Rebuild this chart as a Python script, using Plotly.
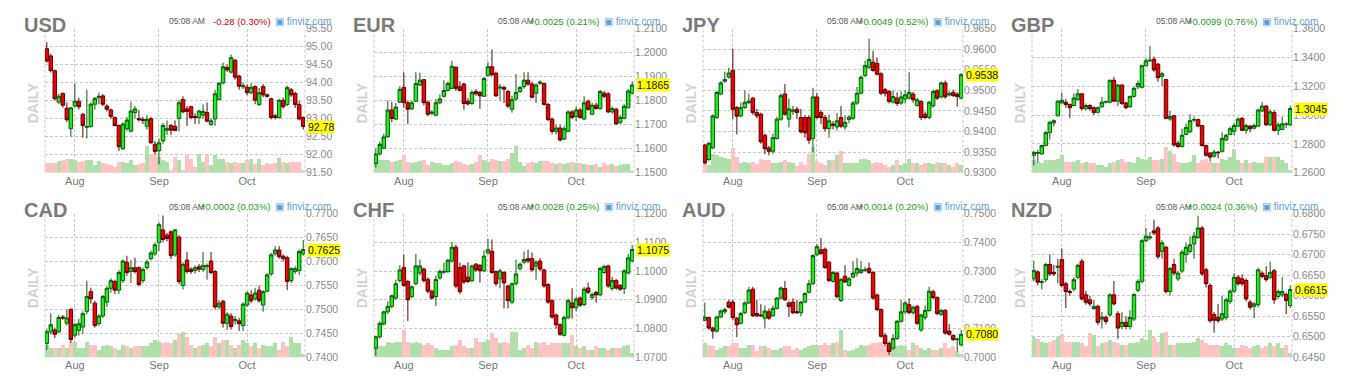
import plotly.graph_objects as go
import pandas as pd

# ---------------- categories ----------------
dates = [d.strftime("%Y-%m-%d") for d in pd.bdate_range("2020-07-23", "2020-10-21")]
month_ticks = ["2020-08-03", "2020-09-01", "2020-10-01"]
month_labels = ["Aug", "Sep", "Oct"]

# ---------------- USD ----------------
usd_open = [94.94, 94.74, 94.33, 93.46, 93.70, 93.29, 92.72, 93.35, 93.48, 93.12,
            92.76, 92.78, 93.40, 93.58, 93.63, 93.35, 93.24, 93.03, 92.81, 92.16,
            92.72, 92.65, 93.17, 93.00, 92.98, 92.79, 93.00, 92.29, 92.11, 92.38,
            92.68, 92.81, 92.79, 93.01, 93.53, 93.27, 93.33, 93.06, 93.03, 93.10,
            93.17, 92.84, 92.99, 93.53, 93.99, 94.42, 94.29, 94.62, 94.18, 93.88,
            93.87, 93.72, 93.89, 93.39, 93.89, 93.66, 93.55, 93.08, 93.03, 93.51,
            93.39, 93.80, 93.70, 93.39, 93.03]
usd_close = [94.60, 94.33, 93.55, 93.62, 93.37, 92.97, 93.30, 93.48, 93.33, 92.81,
             92.78, 93.40, 93.56, 93.62, 93.40, 93.26, 93.06, 92.81, 92.22, 92.85,
             92.96, 93.21, 93.27, 92.97, 92.95, 92.98, 92.33, 92.09, 92.33, 92.81,
             92.72, 92.68, 92.67, 93.44, 93.19, 93.20, 93.03, 93.03, 93.21, 93.20,
             92.93, 92.94, 93.69, 93.98, 94.44, 94.35, 94.69, 94.15, 93.90, 93.92,
             93.72, 93.87, 93.51, 93.72, 93.66, 93.62, 93.03, 93.03, 93.51, 93.33,
             93.86, 93.66, 93.39, 92.99, 92.78]
usd_high = [95.12, 94.80, 94.36, 93.68, 93.72, 93.45, 93.32, 93.98, 93.58, 93.16,
            93.80, 93.45, 93.60, 93.72, 93.68, 93.40, 93.28, 93.06, 92.84, 92.90,
            93.05, 93.47, 93.35, 93.24, 93.05, 93.10, 93.05, 92.38, 92.45, 92.88,
            92.95, 92.85, 92.95, 93.52, 93.62, 93.35, 93.36, 93.15, 93.25, 93.40,
            93.45, 93.00, 93.80, 94.02, 94.55, 94.50, 94.78, 94.66, 94.22, 94.00,
            93.95, 93.98, 93.92, 93.85, 93.96, 93.70, 93.58, 93.12, 93.55, 93.58,
            93.92, 93.85, 93.75, 93.50, 93.06]
usd_low = [94.55, 94.28, 93.50, 93.40, 93.30, 92.90, 92.50, 93.30, 93.25, 92.47,
           92.45, 92.75, 93.25, 93.40, 93.35, 93.20, 93.00, 92.78, 92.10, 92.14,
           92.65, 92.62, 93.00, 92.92, 92.85, 92.70, 92.30, 92.00, 91.73, 92.30,
           92.55, 92.55, 92.65, 92.65, 93.15, 92.80, 92.98, 92.85, 92.85, 93.00,
           92.90, 92.80, 92.80, 93.50, 93.95, 94.30, 94.25, 94.08, 93.80, 93.82,
           93.65, 93.68, 93.40, 93.35, 93.60, 93.58, 92.98, 92.98, 93.00, 93.28,
           93.35, 93.60, 93.30, 92.95, 92.70]
usd_volume = [30, 30, 32, 38, 42, 45, 45, 40, 35, 38,
              40, 42, 25, 38, 30, 28, 25, 20, 35, 35,
              30, 42, 25, 28, 30, 85, 60, 55, 50, 40,
              35, 10, 50, 40, 10, 60, 45, 20, 60, 35,
              55, 25, 55, 45, 45, 35, 30, 35, 30, 30,
              40, 45, 28, 45, 25, 30, 28, 32, 48, 35,
              30, 35, 35, 35, 10]
usd_ticks = [91.5, 92.0, 92.5, 93.0, 93.5, 94.0, 94.5, 95.0, 95.5]

# ---------------- EUR ----------------
eur_open = [1.1538, 1.1578, 1.1602, 1.1649, 1.1761, 1.1723, 1.1793, 1.1855, 1.1791, 1.1766,
            1.1797, 1.1865, 1.1887, 1.1793, 1.1747, 1.1739, 1.1791, 1.1818, 1.1842, 1.1851,
            1.1939, 1.1858, 1.1869, 1.1797, 1.1788, 1.1838, 1.1834, 1.1818, 1.1905, 1.1941,
            1.1914, 1.1852, 1.1855, 1.1838, 1.1764, 1.1807, 1.1838, 1.1858, 1.1885, 1.1869,
            1.1831, 1.1872, 1.1871, 1.1784, 1.1723, 1.1672, 1.1686, 1.1640, 1.1672, 1.1753,
            1.1734, 1.1761, 1.1723, 1.1797, 1.1743, 1.1781, 1.1767, 1.1831, 1.1828, 1.1753,
            1.1764, 1.1710, 1.1726, 1.1770, 1.1831]
eur_close = [1.1578, 1.1618, 1.1649, 1.1761, 1.1726, 1.1773, 1.1847, 1.1791, 1.1764, 1.1791,
             1.1871, 1.1885, 1.1791, 1.1743, 1.1752, 1.1791, 1.1807, 1.1842, 1.1871, 1.1943,
             1.1851, 1.1842, 1.1788, 1.1786, 1.1834, 1.1828, 1.1820, 1.1892, 1.1941, 1.1908,
             1.1820, 1.1856, 1.1847, 1.1777, 1.1804, 1.1834, 1.1855, 1.1885, 1.1869, 1.1814,
             1.1865, 1.1877, 1.1784, 1.1721, 1.1672, 1.1686, 1.1636, 1.1683, 1.1753, 1.1730,
             1.1761, 1.1730, 1.1791, 1.1764, 1.1781, 1.1767, 1.1838, 1.1818, 1.1753, 1.1767,
             1.1703, 1.1730, 1.1777, 1.1840, 1.1865]
eur_high = [1.1600, 1.1630, 1.1662, 1.1800, 1.1795, 1.1790, 1.1860, 1.1918, 1.1800, 1.1800,
            1.1918, 1.1916, 1.1890, 1.1800, 1.1760, 1.1805, 1.1825, 1.1885, 1.1880, 1.1966,
            1.1942, 1.1880, 1.1875, 1.1810, 1.1845, 1.1848, 1.1840, 1.1898, 1.1960, 1.2013,
            1.1920, 1.1870, 1.1862, 1.1845, 1.1820, 1.1910, 1.1862, 1.1918, 1.1918, 1.1880,
            1.1872, 1.1885, 1.1875, 1.1790, 1.1730, 1.1700, 1.1700, 1.1695, 1.1760, 1.1760,
            1.1775, 1.1770, 1.1818, 1.1805, 1.1790, 1.1792, 1.1845, 1.1840, 1.1835, 1.1776,
            1.1770, 1.1740, 1.1785, 1.1848, 1.1880]
eur_low = [1.1521, 1.1570, 1.1598, 1.1645, 1.1710, 1.1720, 1.1790, 1.1770, 1.1703, 1.1760,
           1.1795, 1.1860, 1.1780, 1.1735, 1.1740, 1.1735, 1.1785, 1.1812, 1.1838, 1.1848,
           1.1840, 1.1838, 1.1762, 1.1780, 1.1782, 1.1820, 1.1766, 1.1815, 1.1900, 1.1900,
           1.1815, 1.1800, 1.1790, 1.1770, 1.1750, 1.1800, 1.1832, 1.1850, 1.1862, 1.1810,
           1.1790, 1.1865, 1.1780, 1.1715, 1.1660, 1.1660, 1.1630, 1.1635, 1.1668, 1.1722,
           1.1715, 1.1725, 1.1720, 1.1758, 1.1740, 1.1763, 1.1762, 1.1810, 1.1748, 1.1745,
           1.1700, 1.1702, 1.1722, 1.1768, 1.1825]
eur_volume = [45, 40, 40, 42, 35, 38, 40, 55, 35, 32,
              35, 38, 40, 25, 35, 32, 30, 25, 25, 30,
              38, 35, 28, 25, 28, 35, 55, 40, 35, 45,
              40, 38, 38, 45, 62, 84, 35, 22, 30, 35,
              30, 38, 38, 38, 32, 28, 30, 28, 32, 35,
              32, 30, 28, 25, 25, 28, 20, 30, 25, 28,
              22, 25, 28, 28, 8]
eur_ticks = [1.15, 1.16, 1.17, 1.18, 1.19, 1.20, 1.21]

# ---------------- JPY ----------------
jpy_open = [0.9367, 0.9332, 0.9360, 0.9434, 0.9491, 0.9522, 0.9532, 0.9548, 0.9458, 0.9438,
            0.9458, 0.9470, 0.9481, 0.9446, 0.9442, 0.9391, 0.9360, 0.9352, 0.9383, 0.9430,
            0.9491, 0.9430, 0.9449, 0.9454, 0.9434, 0.9434, 0.9434, 0.9383, 0.9484, 0.9446,
            0.9434, 0.9407, 0.9418, 0.9411, 0.9434, 0.9411, 0.9429, 0.9432, 0.9469, 0.9493,
            0.9536, 0.9556, 0.9568, 0.9565, 0.9540, 0.9502, 0.9497, 0.9471, 0.9481, 0.9469,
            0.9479, 0.9481, 0.9491, 0.9463, 0.9473, 0.9442, 0.9434, 0.9462, 0.9499, 0.9484,
            0.9518, 0.9489, 0.9495, 0.9491, 0.9481]
jpy_close = [0.9324, 0.9371, 0.9438, 0.9495, 0.9518, 0.9526, 0.9542, 0.9454, 0.9437, 0.9458,
             0.9471, 0.9474, 0.9446, 0.9438, 0.9375, 0.9358, 0.9352, 0.9385, 0.9430, 0.9487,
             0.9442, 0.9455, 0.9452, 0.9446, 0.9399, 0.9397, 0.9379, 0.9484, 0.9434, 0.9434,
             0.9407, 0.9426, 0.9415, 0.9426, 0.9413, 0.9422, 0.9435, 0.9469, 0.9493, 0.9532,
             0.9560, 0.9575, 0.9548, 0.9539, 0.9493, 0.9493, 0.9473, 0.9485, 0.9468, 0.9484,
             0.9489, 0.9495, 0.9477, 0.9477, 0.9434, 0.9434, 0.9471, 0.9497, 0.9481, 0.9518,
             0.9484, 0.9492, 0.9487, 0.9485, 0.9538]
jpy_high = [0.9370, 0.9375, 0.9442, 0.9498, 0.9522, 0.9545, 0.9555, 0.9601, 0.9462, 0.9470,
            0.9500, 0.9492, 0.9484, 0.9455, 0.9446, 0.9395, 0.9365, 0.9395, 0.9436, 0.9492,
            0.9515, 0.9480, 0.9462, 0.9460, 0.9455, 0.9440, 0.9440, 0.9506, 0.9494, 0.9452,
            0.9440, 0.9442, 0.9425, 0.9445, 0.9462, 0.9440, 0.9440, 0.9474, 0.9508, 0.9536,
            0.9572, 0.9625, 0.9596, 0.9580, 0.9544, 0.9506, 0.9500, 0.9500, 0.9495, 0.9498,
            0.9500, 0.9544, 0.9496, 0.9482, 0.9476, 0.9448, 0.9475, 0.9502, 0.9503, 0.9522,
            0.9524, 0.9498, 0.9502, 0.9495, 0.9542]
jpy_low = [0.9320, 0.9328, 0.9358, 0.9430, 0.9488, 0.9518, 0.9528, 0.9430, 0.9393, 0.9434,
           0.9455, 0.9466, 0.9440, 0.9432, 0.9370, 0.9345, 0.9342, 0.9345, 0.9380, 0.9426,
           0.9438, 0.9410, 0.9440, 0.9430, 0.9395, 0.9385, 0.9370, 0.9350, 0.9430, 0.9418,
           0.9400, 0.9385, 0.9405, 0.9402, 0.9408, 0.9404, 0.9420, 0.9428, 0.9465, 0.9490,
           0.9532, 0.9552, 0.9545, 0.9536, 0.9488, 0.9485, 0.9468, 0.9468, 0.9462, 0.9465,
           0.9468, 0.9478, 0.9470, 0.9460, 0.9428, 0.9430, 0.9430, 0.9458, 0.9476, 0.9480,
           0.9480, 0.9485, 0.9484, 0.9460, 0.9478]
jpy_volume = [50, 25, 60, 55, 50, 48, 45, 78, 50, 33,
              35, 33, 35, 28, 45, 42, 40, 30, 32, 35,
              42, 35, 32, 22, 35, 25, 60, 80, 38, 30,
              25, 42, 40, 55, 68, 32, 32, 32, 32, 45,
              45, 42, 30, 35, 30, 25, 20, 25, 40, 25,
              30, 45, 30, 32, 25, 30, 30, 28, 35, 30,
              30, 25, 20, 32, 25]
jpy_ticks = [0.930, 0.935, 0.940, 0.945, 0.950, 0.955, 0.960, 0.965]

# ---------------- GBP ----------------
gbp_open = [1.2721, 1.2735, 1.2730, 1.2788, 1.2878, 1.2945, 1.2995, 1.3084, 1.3089, 1.3073,
            1.3066, 1.3107, 1.3147, 1.3044, 1.3066, 1.3051, 1.3019, 1.3057, 1.3089, 1.3089,
            1.3241, 1.3096, 1.3208, 1.3084, 1.3057, 1.3129, 1.3196, 1.3192, 1.3342, 1.3376,
            1.3387, 1.3353, 1.3268, 1.3246, 1.2972, 1.2995, 1.2804, 1.2782, 1.2865, 1.2883,
            1.2965, 1.2968, 1.2927, 1.2788, 1.2737, 1.2714, 1.2743, 1.2748, 1.2827, 1.2865,
            1.2887, 1.2923, 1.2977, 1.2894, 1.2923, 1.2909, 1.2923, 1.3028, 1.3062, 1.2932,
            1.3017, 1.2894, 1.2900, 1.2934, 1.2932]
gbp_close = [1.2741, 1.2740, 1.2788, 1.2878, 1.2950, 1.2961, 1.3096, 1.3102, 1.3073, 1.3051,
             1.3118, 1.3147, 1.3044, 1.3066, 1.3044, 1.3017, 1.3051, 1.3089, 1.3093, 1.3241,
             1.3096, 1.3208, 1.3080, 1.3051, 1.3129, 1.3185, 1.3219, 1.3342, 1.3376, 1.3380,
             1.3313, 1.3259, 1.3286, 1.2977, 1.2990, 1.2793, 1.2782, 1.2860, 1.2914, 1.2961,
             1.2968, 1.2923, 1.2788, 1.2721, 1.2708, 1.2743, 1.2739, 1.2838, 1.2860, 1.2905,
             1.2927, 1.2972, 1.2894, 1.2927, 1.2905, 1.2927, 1.3035, 1.3062, 1.2932, 1.3022,
             1.2894, 1.2932, 1.2939, 1.2937, 1.3045]
gbp_high = [1.2750, 1.2760, 1.2795, 1.2890, 1.2960, 1.2970, 1.3104, 1.3155, 1.3110, 1.3080,
            1.3150, 1.3180, 1.3150, 1.3080, 1.3075, 1.3060, 1.3060, 1.3125, 1.3100, 1.3245,
            1.3265, 1.3215, 1.3212, 1.3090, 1.3135, 1.3195, 1.3240, 1.3350, 1.3395, 1.3480,
            1.3405, 1.3360, 1.3300, 1.3250, 1.3030, 1.3000, 1.2820, 1.2905, 1.2940, 1.3005,
            1.2990, 1.2975, 1.2930, 1.2795, 1.2740, 1.2760, 1.2750, 1.2880, 1.2870, 1.2920,
            1.2945, 1.2985, 1.2985, 1.2940, 1.2930, 1.2940, 1.3045, 1.3090, 1.3068, 1.3040,
            1.3035, 1.2950, 1.2990, 1.2950, 1.3065]
gbp_low = [1.2650, 1.2670, 1.2725, 1.2784, 1.2830, 1.2920, 1.2990, 1.3080, 1.3050, 1.2980,
           1.3060, 1.3100, 1.3030, 1.3030, 1.3030, 1.3000, 1.3010, 1.3050, 1.3080, 1.3080,
           1.3090, 1.3060, 1.3070, 1.3040, 1.3050, 1.3120, 1.3180, 1.3185, 1.3335, 1.3370,
           1.3300, 1.3230, 1.3200, 1.2970, 1.2960, 1.2780, 1.2770, 1.2775, 1.2860, 1.2875,
           1.2950, 1.2915, 1.2780, 1.2710, 1.2680, 1.2705, 1.2700, 1.2740, 1.2820, 1.2860,
           1.2860, 1.2915, 1.2890, 1.2870, 1.2880, 1.2900, 1.2918, 1.3020, 1.2925, 1.2925,
           1.2885, 1.2860, 1.2895, 1.2910, 1.2925]
gbp_volume = [40, 35, 30, 40, 42, 42, 45, 55, 35, 35,
              35, 40, 30, 35, 30, 30, 25, 25, 20, 30,
              35, 40, 45, 35, 35, 30, 50, 45, 40, 50,
              40, 42, 45, 80, 70, 60, 35, 30, 30, 35,
              55, 30, 40, 45, 35, 30, 30, 45, 40, 50,
              75, 40, 30, 40, 30, 35, 30, 30, 50, 50,
              50, 50, 40, 30, 10]
gbp_ticks = [1.26, 1.28, 1.30, 1.32, 1.34, 1.36]

# ---------------- CAD ----------------
cad_open = [0.7429, 0.7453, 0.7457, 0.7453, 0.7484, 0.7471, 0.7500, 0.7446, 0.7456, 0.7463,
            0.7496, 0.7537, 0.7513, 0.7470, 0.7486, 0.7515, 0.7544, 0.7558, 0.7540, 0.7560,
            0.7598, 0.7579, 0.7587, 0.7587, 0.7560, 0.7587, 0.7606, 0.7616, 0.7639, 0.7666,
            0.7655, 0.7662, 0.7614, 0.7651, 0.7550, 0.7603, 0.7584, 0.7581, 0.7589, 0.7583,
            0.7589, 0.7601, 0.7579, 0.7505, 0.7517, 0.7471, 0.7486, 0.7476, 0.7476, 0.7466,
            0.7509, 0.7530, 0.7522, 0.7540, 0.7509, 0.7538, 0.7574, 0.7616, 0.7624, 0.7611,
            0.7608, 0.7560, 0.7579, 0.7581, 0.7616]
cad_close = [0.7453, 0.7468, 0.7448, 0.7483, 0.7482, 0.7482, 0.7437, 0.7468, 0.7470, 0.7491,
             0.7527, 0.7522, 0.7466, 0.7486, 0.7527, 0.7544, 0.7560, 0.7540, 0.7577, 0.7601,
             0.7577, 0.7587, 0.7579, 0.7552, 0.7583, 0.7599, 0.7618, 0.7635, 0.7677, 0.7646,
             0.7648, 0.7612, 0.7666, 0.7558, 0.7594, 0.7579, 0.7579, 0.7587, 0.7584, 0.7592,
             0.7591, 0.7577, 0.7505, 0.7513, 0.7471, 0.7490, 0.7464, 0.7479, 0.7470, 0.7511,
             0.7534, 0.7518, 0.7534, 0.7518, 0.7537, 0.7572, 0.7614, 0.7624, 0.7610, 0.7606,
             0.7558, 0.7585, 0.7585, 0.7621, 0.7625]
cad_high = [0.7460, 0.7492, 0.7462, 0.7488, 0.7488, 0.7500, 0.7502, 0.7472, 0.7480, 0.7496,
            0.7560, 0.7545, 0.7518, 0.7490, 0.7530, 0.7548, 0.7565, 0.7562, 0.7582, 0.7604,
            0.7612, 0.7602, 0.7608, 0.7590, 0.7588, 0.7604, 0.7623, 0.7640, 0.7682, 0.7696,
            0.7660, 0.7665, 0.7668, 0.7655, 0.7598, 0.7620, 0.7588, 0.7592, 0.7595, 0.7620,
            0.7596, 0.7620, 0.7582, 0.7520, 0.7520, 0.7494, 0.7492, 0.7486, 0.7482, 0.7515,
            0.7538, 0.7540, 0.7545, 0.7550, 0.7540, 0.7576, 0.7618, 0.7632, 0.7632, 0.7615,
            0.7612, 0.7588, 0.7590, 0.7625, 0.7645]
cad_low = [0.7415, 0.7448, 0.7440, 0.7450, 0.7478, 0.7466, 0.7430, 0.7440, 0.7445, 0.7448,
           0.7490, 0.7512, 0.7462, 0.7466, 0.7482, 0.7505, 0.7535, 0.7532, 0.7532, 0.7555,
           0.7570, 0.7555, 0.7575, 0.7548, 0.7555, 0.7583, 0.7602, 0.7612, 0.7622, 0.7640,
           0.7642, 0.7605, 0.7610, 0.7552, 0.7542, 0.7575, 0.7574, 0.7575, 0.7578, 0.7578,
           0.7562, 0.7573, 0.7500, 0.7500, 0.7462, 0.7457, 0.7458, 0.7468, 0.7455, 0.7455,
           0.7505, 0.7513, 0.7518, 0.7514, 0.7495, 0.7535, 0.7570, 0.7612, 0.7606, 0.7600,
           0.7540, 0.7555, 0.7574, 0.7572, 0.7612]
cad_volume = [40, 30, 30, 30, 38, 30, 48, 50, 30, 30,
              50, 40, 40, 25, 35, 38, 35, 30, 25, 40,
              35, 30, 35, 35, 35, 35, 45, 55, 50, 45,
              50, 45, 55, 75, 80, 65, 40, 30, 35, 40,
              45, 35, 65, 45, 55, 55, 40, 30, 40, 55,
              45, 35, 45, 30, 40, 35, 35, 45, 25, 50,
              35, 65, 45, 45, 10]
cad_ticks = [0.740, 0.745, 0.750, 0.755, 0.760, 0.765, 0.770]

# ---------------- CHF ----------------
chf_open = [1.0731, 1.0771, 1.0816, 1.0858, 1.0877, 1.0906, 1.0967, 1.1012, 1.0964, 1.0911,
            1.0956, 1.0993, 1.1007, 1.0971, 1.0930, 1.0911, 1.0976, 1.0996, 1.0998, 1.1035,
            1.1083, 1.1012, 1.1018, 1.0979, 1.0967, 1.1024, 1.1020, 1.1001, 1.1063, 1.1069,
            1.0998, 1.0973, 1.0995, 1.0948, 1.0892, 1.0956, 1.1009, 1.1031, 1.1043, 1.1043,
            1.1018, 1.1035, 1.1004, 1.0953, 1.0897, 1.0847, 1.0813, 1.0776, 1.0838, 1.0889,
            1.0872, 1.0906, 1.0883, 1.0941, 1.0908, 1.0926, 1.0917, 1.0995, 1.1018, 1.0939,
            1.0967, 1.0950, 1.0939, 1.0993, 1.1035]
chf_close = [1.0771, 1.0818, 1.0858, 1.0877, 1.0914, 1.0956, 1.1004, 1.0950, 1.0900, 1.0945,
             1.1018, 1.1018, 1.0967, 1.0930, 1.0906, 1.0971, 1.0999, 1.0999, 1.1038, 1.1083,
             1.0948, 1.0928, 1.0962, 1.0964, 1.1018, 1.1004, 1.1001, 1.1052, 1.1074, 1.0995,
             1.0956, 1.1001, 1.0959, 1.0897, 1.0956, 1.0990, 1.1024, 1.1040, 1.1035, 1.1004,
             1.1031, 1.1007, 1.0948, 1.0892, 1.0840, 1.0813, 1.0780, 1.0838, 1.0897, 1.0872,
             1.0903, 1.0881, 1.0937, 1.0926, 1.0919, 1.0917, 1.1009, 1.1016, 1.0948, 1.0967,
             1.0941, 1.0937, 1.1001, 1.1046, 1.1075]
chf_high = [1.0775, 1.0825, 1.0862, 1.0895, 1.0918, 1.0970, 1.1020, 1.1057, 1.0970, 1.0950,
            1.1060, 1.1040, 1.1012, 1.0978, 1.0935, 1.0985, 1.1005, 1.1030, 1.1042, 1.1102,
            1.1092, 1.1030, 1.1022, 1.1030, 1.1022, 1.1028, 1.1024, 1.1072, 1.1112, 1.1110,
            1.1002, 1.1008, 1.1000, 1.0952, 1.0960, 1.1040, 1.1030, 1.1068, 1.1075, 1.1065,
            1.1038, 1.1045, 1.1008, 1.0958, 1.0902, 1.0852, 1.0818, 1.0845, 1.0905, 1.0940,
            1.0910, 1.0912, 1.0945, 1.0960, 1.0925, 1.0930, 1.1015, 1.1022, 1.1022, 1.0980,
            1.0972, 1.0955, 1.1006, 1.1060, 1.1090]
chf_low = [1.0705, 1.0765, 1.0810, 1.0850, 1.0870, 1.0900, 1.0960, 1.0945, 1.0826, 1.0905,
           1.0950, 1.0985, 1.0960, 1.0922, 1.0900, 1.0878, 1.0970, 1.0990, 1.0994, 1.1030,
           1.0940, 1.0920, 1.0955, 1.0958, 1.0960, 1.0998, 1.0960, 1.0996, 1.1058, 1.0990,
           1.0948, 1.0940, 1.0870, 1.0870, 1.0885, 1.0950, 1.1002, 1.1025, 1.1028, 1.0998,
           1.0970, 1.1000, 1.0942, 1.0886, 1.0834, 1.0800, 1.0774, 1.0772, 1.0832, 1.0835,
           1.0860, 1.0875, 1.0878, 1.0920, 1.0900, 1.0890, 1.0912, 1.0990, 1.0942, 1.0932,
           1.0935, 1.0930, 1.0920, 1.0988, 1.1030]
chf_volume = [35, 35, 35, 50, 45, 50, 50, 85, 50, 45,
              50, 45, 40, 45, 40, 30, 25, 25, 25, 35,
              40, 55, 35, 30, 30, 60, 50, 50, 55, 75,
              60, 45, 50, 45, 80, 78, 25, 30, 40, 30,
              50, 45, 50, 40, 45, 45, 45, 45, 45, 70,
              35, 30, 35, 25, 25, 35, 30, 30, 25, 30,
              30, 30, 35, 40, 15]
chf_ticks = [1.07, 1.08, 1.09, 1.10, 1.11, 1.12]

# ---------------- AUD ----------------
aud_open = [0.7129, 0.7138, 0.7102, 0.7091, 0.7140, 0.7158, 0.7192, 0.7192, 0.7136, 0.7118,
            0.7155, 0.7189, 0.7237, 0.7152, 0.7147, 0.7136, 0.7158, 0.7144, 0.7170, 0.7206,
            0.7239, 0.7189, 0.7192, 0.7159, 0.7155, 0.7192, 0.7226, 0.7256, 0.7357, 0.7374,
            0.7376, 0.7331, 0.7264, 0.7293, 0.7197, 0.7282, 0.7250, 0.7279, 0.7293, 0.7295,
            0.7302, 0.7309, 0.7295, 0.7217, 0.7166, 0.7076, 0.7048, 0.7031, 0.7065, 0.7125,
            0.7158, 0.7183, 0.7155, 0.7177, 0.7095, 0.7138, 0.7163, 0.7228, 0.7208, 0.7149,
            0.7163, 0.7091, 0.7076, 0.7061, 0.7043]
aud_close = [0.7140, 0.7102, 0.7091, 0.7140, 0.7161, 0.7166, 0.7174, 0.7138, 0.7113, 0.7152,
             0.7189, 0.7234, 0.7144, 0.7144, 0.7144, 0.7161, 0.7136, 0.7170, 0.7206, 0.7241,
             0.7200, 0.7177, 0.7155, 0.7155, 0.7192, 0.7222, 0.7256, 0.7354, 0.7385, 0.7361,
             0.7312, 0.7267, 0.7295, 0.7211, 0.7271, 0.7262, 0.7273, 0.7293, 0.7309, 0.7304,
             0.7304, 0.7295, 0.7206, 0.7166, 0.7073, 0.7048, 0.7020, 0.7065, 0.7125, 0.7158,
             0.7189, 0.7155, 0.7174, 0.7118, 0.7147, 0.7163, 0.7230, 0.7208, 0.7152, 0.7163,
             0.7084, 0.7080, 0.7062, 0.7063, 0.7080]
aud_high = [0.7190, 0.7142, 0.7106, 0.7145, 0.7166, 0.7172, 0.7200, 0.7200, 0.7140, 0.7158,
            0.7195, 0.7245, 0.7245, 0.7200, 0.7185, 0.7180, 0.7170, 0.7180, 0.7210, 0.7246,
            0.7265, 0.7195, 0.7205, 0.7200, 0.7196, 0.7226, 0.7270, 0.7358, 0.7395, 0.7415,
            0.7382, 0.7336, 0.7300, 0.7298, 0.7276, 0.7320, 0.7280, 0.7335, 0.7345, 0.7335,
            0.7315, 0.7330, 0.7300, 0.7222, 0.7170, 0.7085, 0.7055, 0.7080, 0.7130, 0.7200,
            0.7195, 0.7205, 0.7180, 0.7182, 0.7152, 0.7180, 0.7245, 0.7235, 0.7212, 0.7168,
            0.7168, 0.7115, 0.7080, 0.7068, 0.7095]
aud_low = [0.7125, 0.7095, 0.7065, 0.7085, 0.7136, 0.7150, 0.7170, 0.7130, 0.7070, 0.7114,
           0.7150, 0.7185, 0.7140, 0.7140, 0.7140, 0.7102, 0.7130, 0.7140, 0.7166, 0.7202,
           0.7196, 0.7140, 0.7150, 0.7150, 0.7142, 0.7188, 0.7222, 0.7252, 0.7353, 0.7357,
           0.7308, 0.7262, 0.7260, 0.7205, 0.7192, 0.7258, 0.7246, 0.7275, 0.7280, 0.7290,
           0.7298, 0.7290, 0.7200, 0.7160, 0.7068, 0.7040, 0.7008, 0.7026, 0.7060, 0.7120,
           0.7150, 0.7150, 0.7148, 0.7112, 0.7088, 0.7130, 0.7158, 0.7202, 0.7146, 0.7144,
           0.7078, 0.7075, 0.7056, 0.7020, 0.7038]
aud_volume = [45, 40, 35, 25, 30, 35, 35, 45, 45, 30,
              30, 40, 40, 20, 35, 35, 30, 25, 25, 30,
              35, 35, 25, 30, 25, 30, 35, 40, 40, 40,
              45, 40, 45, 50, 85, 25, 20, 25, 30, 40,
              35, 40, 45, 45, 50, 40, 45, 40, 35, 40,
              35, 25, 45, 40, 30, 25, 30, 25, 25, 30,
              45, 30, 35, 20, 10]
aud_ticks = [0.70, 0.71, 0.72, 0.73, 0.74, 0.75]

# ---------------- NZD ----------------
nzd_open = [0.6641, 0.6658, 0.6632, 0.6639, 0.6676, 0.6657, 0.6669, 0.6688, 0.6629, 0.6610,
            0.6616, 0.6645, 0.6684, 0.6602, 0.6590, 0.6569, 0.6574, 0.6543, 0.6547, 0.6553,
            0.6602, 0.6556, 0.6525, 0.6535, 0.6525, 0.6543, 0.6613, 0.6635, 0.6734, 0.6741,
            0.6758, 0.6765, 0.6708, 0.6718, 0.6610, 0.6676, 0.6641, 0.6660, 0.6700, 0.6708,
            0.6726, 0.6742, 0.6765, 0.6663, 0.6625, 0.6554, 0.6547, 0.6543, 0.6547, 0.6586,
            0.6611, 0.6645, 0.6641, 0.6637, 0.6584, 0.6574, 0.6578, 0.6655, 0.6649, 0.6645,
            0.6661, 0.6598, 0.6602, 0.6603, 0.6576]
nzd_close = [0.6661, 0.6633, 0.6634, 0.6676, 0.6653, 0.6653, 0.6672, 0.6625, 0.6610, 0.6608,
             0.6639, 0.6674, 0.6592, 0.6584, 0.6580, 0.6574, 0.6535, 0.6548, 0.6537, 0.6602,
             0.6580, 0.6521, 0.6535, 0.6525, 0.6547, 0.6603, 0.6635, 0.6734, 0.6745, 0.6743,
             0.6753, 0.6695, 0.6729, 0.6610, 0.6666, 0.6655, 0.6655, 0.6706, 0.6718, 0.6724,
             0.6745, 0.6765, 0.6653, 0.6629, 0.6539, 0.6540, 0.6539, 0.6556, 0.6590, 0.6611,
             0.6645, 0.6629, 0.6629, 0.6592, 0.6572, 0.6580, 0.6663, 0.6647, 0.6639, 0.6657,
             0.6590, 0.6610, 0.6610, 0.6588, 0.6615]
nzd_high = [0.6685, 0.6662, 0.6640, 0.6680, 0.6700, 0.6675, 0.6690, 0.6715, 0.6634, 0.6615,
            0.6645, 0.6678, 0.6690, 0.6612, 0.6600, 0.6590, 0.6578, 0.6560, 0.6552, 0.6606,
            0.6636, 0.6562, 0.6560, 0.6550, 0.6565, 0.6606, 0.6640, 0.6738, 0.6765, 0.6755,
            0.6785, 0.6770, 0.6735, 0.6722, 0.6670, 0.6690, 0.6660, 0.6712, 0.6730, 0.6745,
            0.6755, 0.6795, 0.6770, 0.6668, 0.6630, 0.6560, 0.6580, 0.6600, 0.6595, 0.6616,
            0.6655, 0.6650, 0.6652, 0.6642, 0.6590, 0.6585, 0.6668, 0.6660, 0.6672, 0.6683,
            0.6665, 0.6615, 0.6645, 0.6608, 0.6625]
nzd_low = [0.6635, 0.6625, 0.6615, 0.6633, 0.6648, 0.6648, 0.6630, 0.6620, 0.6570, 0.6600,
           0.6610, 0.6640, 0.6588, 0.6578, 0.6574, 0.6565, 0.6528, 0.6520, 0.6530, 0.6549,
           0.6576, 0.6495, 0.6518, 0.6518, 0.6518, 0.6538, 0.6608, 0.6630, 0.6730, 0.6736,
           0.6748, 0.6690, 0.6690, 0.6605, 0.6600, 0.6650, 0.6636, 0.6655, 0.6680, 0.6703,
           0.6690, 0.6738, 0.6648, 0.6620, 0.6534, 0.6510, 0.6534, 0.6538, 0.6540, 0.6580,
           0.6606, 0.6624, 0.6624, 0.6586, 0.6566, 0.6545, 0.6572, 0.6642, 0.6634, 0.6640,
           0.6580, 0.6592, 0.6596, 0.6555, 0.6570]
nzd_volume = [65, 58, 48, 45, 50, 55, 65, 72, 50, 48,
              50, 48, 45, 35, 75, 70, 35, 45, 50, 55,
              50, 45, 40, 40, 45, 45, 50, 60, 55, 85,
              65, 50, 75, 80, 40, 40, 45, 45, 45, 45,
              50, 60, 55, 45, 40, 40, 40, 35, 45, 40,
              30, 30, 40, 35, 30, 35, 40, 30, 35, 45,
              35, 45, 30, 40, 15]
nzd_ticks = [0.645, 0.650, 0.655, 0.660, 0.665, 0.670, 0.675, 0.680]

# ---------------- panel texts ----------------
names = ["USD", "EUR", "JPY", "GBP", "CAD", "CHF", "AUD", "NZD"]
changes = ["-0.28 (0.30%)", "+0.0025 (0.21%)", "+0.0049 (0.52%)", "+0.0099 (0.76%)",
           "+0.0002 (0.03%)", "+0.0028 (0.25%)", "+0.0014 (0.20%)", "+0.0024 (0.36%)"]
time_label = "05:08 AM"

panels = [
    (usd_open, usd_high, usd_low, usd_close, usd_volume, usd_ticks, ".2f"),
    (eur_open, eur_high, eur_low, eur_close, eur_volume, eur_ticks, ".4f"),
    (jpy_open, jpy_high, jpy_low, jpy_close, jpy_volume, jpy_ticks, ".4f"),
    (gbp_open, gbp_high, gbp_low, gbp_close, gbp_volume, gbp_ticks, ".4f"),
    (cad_open, cad_high, cad_low, cad_close, cad_volume, cad_ticks, ".4f"),
    (chf_open, chf_high, chf_low, chf_close, chf_volume, chf_ticks, ".4f"),
    (aud_open, aud_high, aud_low, aud_close, aud_volume, aud_ticks, ".4f"),
    (nzd_open, nzd_high, nzd_low, nzd_close, nzd_volume, nzd_ticks, ".4f"),
]

# ---------------- geometry / style ----------------
# The page body has an 8px margin on every side, so the figure is sized so that
# figure + margins exactly fills the window, and window positions are converted.
WIN_W, WIN_H = 1348, 387
OFF = 8
W, H = WIN_W - 2 * OFF, WIN_H - 2 * OFF


def px(x):
    return (x - OFF) / W


def py(y):
    return 1 - (y - OFF) / H


COL_LEFT = [45, 374, 703, 1032]
PLOT_W = 260
ROWS = [(23.0, 172.0), (214.3, 362.7)]
GRID = "#c9c9c9"
DASH = "3px,2px"
UP_VOL = "#afe0aa"
DN_VOL = "#ffc3c3"
FONT = "Arial, Liberation Sans, sans-serif"

fig = go.Figure()
layout = dict(
    width=W, height=H, autosize=False,
    margin=dict(l=0, r=0, t=0, b=0),
    paper_bgcolor="white", plot_bgcolor="white",
    showlegend=False, hovermode=False, bargap=0,
    boxgap=0.12, boxgroupgap=0,
    font=dict(family=FONT, color="#777"),
)
annotations = []
shapes = []

for p, (op, hi, lo, cl, vol, ticks, fmt) in enumerate(panels):
    r, c = divmod(p, 4)
    left = COL_LEFT[c]
    right = left + PLOT_W
    top, bottom = ROWS[r]
    xn, yv, yp = p + 1, 2 * p + 1, 2 * p + 2
    xref = "x" if xn == 1 else f"x{xn}"
    yvref = "y" if yv == 1 else f"y{yv}"
    ypref = f"y{yp}"
    xkey = "xaxis" if xn == 1 else f"xaxis{xn}"
    yvkey = "yaxis" if yv == 1 else f"yaxis{yv}"
    ypkey = f"yaxis{yp}"

    vol_colors = [UP_VOL if b >= a else DN_VOL for a, b in zip(op, cl)]
    fig.add_trace(go.Bar(x=dates, y=vol, marker=dict(color=vol_colors, line=dict(width=0)),
                         xaxis=xref, yaxis=yvref, hoverinfo="skip"))
    fig.add_trace(go.Candlestick(
        x=dates, open=op, high=hi, low=lo, close=cl, xaxis=xref, yaxis=ypref,
        whiskerwidth=0, hoverinfo="skip",
        increasing=dict(line=dict(color="#105a10", width=1), fillcolor="#19ec19"),
        decreasing=dict(line=dict(color="#5a0505", width=1), fillcolor="#f20000"),
    ))

    layout[xkey] = dict(
        domain=[px(left), px(right)], anchor=yvref, type="category",
        range=[-0.45, len(dates) - 0.55], tickmode="array",
        tickvals=month_ticks, ticktext=month_labels,
        showgrid=True, gridcolor=GRID, griddash=DASH, gridwidth=1,
        zeroline=False, showline=False, ticks="",
        tickfont=dict(size=11, color="#777"),
        rangeslider=dict(visible=False), fixedrange=True,
    )
    layout[yvkey] = dict(domain=[py(bottom), py(top)], anchor=xref,
                         range=[0, 446], visible=False, fixedrange=True)
    layout[ypkey] = dict(
        overlaying=yvref, anchor=xref, side="right",
        range=[ticks[0], ticks[-1]], tickmode="array", tickvals=ticks, tickformat=fmt,
        showgrid=True, gridcolor=GRID, griddash=DASH, gridwidth=1,
        zeroline=False, showline=False, ticks="",
        tickfont=dict(size=10.5, color="#8a8a8a"), fixedrange=True,
    )

    for xe in (0, 1):
        shapes.append(dict(type="line", xref=f"{xref} domain", yref=f"{yvref} domain",
                           x0=xe, x1=xe, y0=0, y1=1, layer="below",
                           line=dict(color=GRID, width=1, dash=DASH)))

    # big name
    annotations.append(dict(text=f"<b>{names[p]}</b>", xref="paper", yref="paper",
                            x=px(left - 23), y=py(top - 4), xanchor="left", yanchor="middle",
                            showarrow=False, font=dict(size=20, color="#7a7a7a", family=FONT)))
    # DAILY
    annotations.append(dict(text="<b>DAILY</b>", xref="paper", yref="paper", textangle=-90,
                            x=px(left - 12), y=py((top + bottom) / 2 + 3),
                            xanchor="center", yanchor="middle", showarrow=False,
                            font=dict(size=14, color="#d2d2d2", family=FONT)))
    hy = py(top - 7.3)
    annotations.append(dict(text=time_label, xref="paper", yref="paper",
                            x=px(right - 138), y=hy, xanchor="left", yanchor="middle",
                            showarrow=False, font=dict(size=8.5, color="#555", family=FONT)))
    up = not changes[p].startswith("-")
    annotations.append(dict(text=changes[p], xref="paper", yref="paper",
                            x=px(right - 32), y=hy, xanchor="right", yanchor="middle",
                            showarrow=False,
                            font=dict(size=9.5, color="#1a9c1a" if up else "#d00000", family=FONT)))
    annotations.append(dict(text="\u25a3 finviz.com", xref="paper", yref="paper",
                            x=px(right + 28), y=hy, xanchor="right", yanchor="middle",
                            showarrow=False, font=dict(size=10, color="#5aa0dc", family=FONT)))
    # last price marker
    annotations.append(dict(text=format(cl[-1], fmt), xref="paper", yref=ypref,
                            x=px(right + 1.5), y=cl[-1], xanchor="left", yanchor="middle",
                            showarrow=False, bgcolor="#ffff00", borderpad=0,
                            font=dict(size=10.5, color="#111", family=FONT)))

layout["annotations"] = annotations
layout["shapes"] = shapes
fig.update_layout(**layout)
fig.write_html("out.html")
